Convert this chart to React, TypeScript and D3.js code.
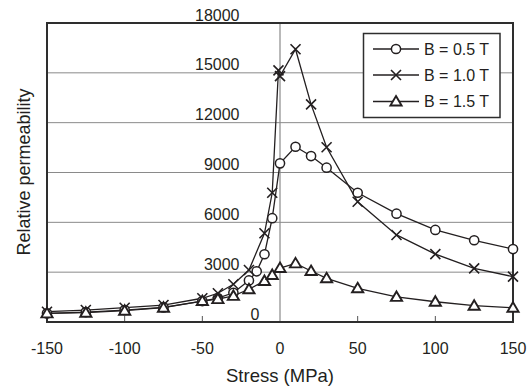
import React from "react";
import * as d3 from "d3";

const xTicks = [-150, -100, -50, 0, 50, 100, 150];
const yTicks = [0, 3000, 6000, 9000, 12000, 15000, 18000];

const stressB05 = [-150, -125, -100, -75, -50, -40, -30, -20, -15, -10, -5, 0, 10, 20, 30, 50, 75, 100, 125, 150];
const permB05 = [520, 600, 720, 880, 1260, 1440, 1760, 2500, 3050, 4080, 6250, 9550, 10550, 9990, 9290, 7780, 6520, 5540, 4920, 4390];

const stressB10 = [-150, -125, -100, -75, -50, -40, -30, -20, -10, -5, -1, 0, 10, 20, 30, 50, 75, 100, 125, 150];
const permB10 = [620, 720, 860, 1020, 1430, 1730, 2270, 3130, 5340, 7780, 15150, 14800, 16420, 13100, 10520, 7240, 5240, 4090, 3230, 2730];

const stressB15 = [-150, -125, -100, -75, -50, -40, -30, -20, -10, -5, 0, 10, 20, 30, 50, 75, 100, 125, 150];
const permB15 = [520, 560, 680, 860, 1260, 1380, 1570, 1970, 2470, 2830, 3250, 3530, 3070, 2630, 2030, 1510, 1220, 980, 860];

const seriesNames = ["B = 0.5 T", "B = 1.0 T", "B = 1.5 T"];
const markerKinds = ["circle", "cross", "triangle"];

const W = 531;
const H = 387;
const INK = "#231f20";
const FONT = "'Liberation Sans', Arial, sans-serif";

function Marker({ kind, x, y }: { kind: string; x: number; y: number }) {
  if (kind === "circle") {
    return <circle cx={x} cy={y} r={4.6} fill="#fff" stroke={INK} strokeWidth={1.5} />;
  }
  if (kind === "cross") {
    const s = 5;
    return (
      <path
        d={`M${x - s},${y - s}L${x + s},${y + s}M${x - s},${y + s}L${x + s},${y - s}`}
        stroke={INK}
        strokeWidth={1.6}
        fill="none"
      />
    );
  }
  const a = 5.6;
  return (
    <path
      d={`M${x},${y - 5.5}L${x + a},${y + 4}L${x - a},${y + 4}Z`}
      fill="#fff"
      stroke={INK}
      strokeWidth={1.9}
      strokeLinejoin="miter"
    />
  );
}

export default function App() {
  const left = 47, right = 513, top = 23, bottom = 322;
  const x = d3.scaleLinear().domain([-150, 150]).range([left, right]);
  const y = d3.scaleLinear().domain([0, 18000]).range([bottom, top]);

  const series = [
    { xs: stressB05, ys: permB05 },
    { xs: stressB10, ys: permB10 },
    { xs: stressB15, ys: permB15 },
  ];

  const line = d3
    .line<[number, number]>()
    .x((d) => x(d[0]))
    .y((d) => y(d[1]));

  const legX = 363.5, legY = 33.5, legW = 136.5, legH = 84;
  const legRows = [49, 75, 101.5];

  return (
    <svg
      width={W}
      height={H}
      style={{ position: "absolute", left: 0, top: 0, background: "#fff" }}
      fontFamily={FONT}
    >
      <rect x={0} y={0} width={W} height={H} fill="#fff" />
      {yTicks
        .filter((t) => t > 0 && t < 18000)
        .map((t) => (
          <line key={"g" + t} x1={left} x2={right} y1={y(t)} y2={y(t)} stroke="#8a8a8a" strokeWidth={1} />
        ))}
      <line x1={x(0)} x2={x(0)} y1={top} y2={bottom} stroke="#8a8a8a" strokeWidth={1.2} />
      {xTicks
        .filter((t) => t !== 0 && Math.abs(t) !== 150)
        .map((t) => (
          <line key={"xt" + t} x1={x(t)} x2={x(t)} y1={bottom - 6} y2={bottom} stroke="#555" strokeWidth={1} />
        ))}
      <rect x={left} y={top} width={right - left} height={bottom - top} fill="none" stroke="#2e2e2e" strokeWidth={2} />

      {yTicks.map((t) => (
        <text
          key={"yl" + t}
          x={t === 0 ? x(0) - 20.5 : x(0) - 40.5}
          y={y(t) - 2.5}
          textAnchor="end"
          fontSize={16}
          fill={INK}
        >
          {t}
        </text>
      ))}
      {xTicks.map((t) => (
        <text key={"xl" + t} x={x(t)} y={353.5} textAnchor="middle" fontSize={16} fill={INK}>
          {t}
        </text>
      ))}
      <text x={280} y={381.5} textAnchor="middle" fontSize={18.5} fill={INK}>
        Stress (MPa)
      </text>
      <text
        transform={`translate(29.5,${172}) rotate(-90)`}
        textAnchor="middle"
        fontSize={18}
        fill={INK}
      >
        Relative permeability
      </text>

      {series.map((s, i) => (
        <path
          key={"l" + i}
          d={line(s.xs.map((v, j) => [v, s.ys[j]] as [number, number])) || ""}
          fill="none"
          stroke={INK}
          strokeWidth={1.3}
        />
      ))}
      {series.map((s, i) => (
        <g key={"m" + i}>
          {s.xs.map((v, j) => (
            <Marker key={j} kind={markerKinds[i]} x={x(v)} y={y(s.ys[j])} />
          ))}
        </g>
      ))}

      <rect x={legX} y={legY} width={legW} height={legH} fill="#fff" stroke="#2e2e2e" strokeWidth={1.5} />
      {seriesNames.map((name, i) => (
        <g key={"lg" + i}>
          <line x1={373} x2={419} y1={legRows[i]} y2={legRows[i]} stroke={INK} strokeWidth={1.5} />
          <Marker kind={markerKinds[i]} x={396} y={legRows[i]} />
          <text x={424} y={legRows[i] + 5.8} fontSize={16} fill={INK}>
            {name}
          </text>
        </g>
      ))}
    </svg>
  );
}
